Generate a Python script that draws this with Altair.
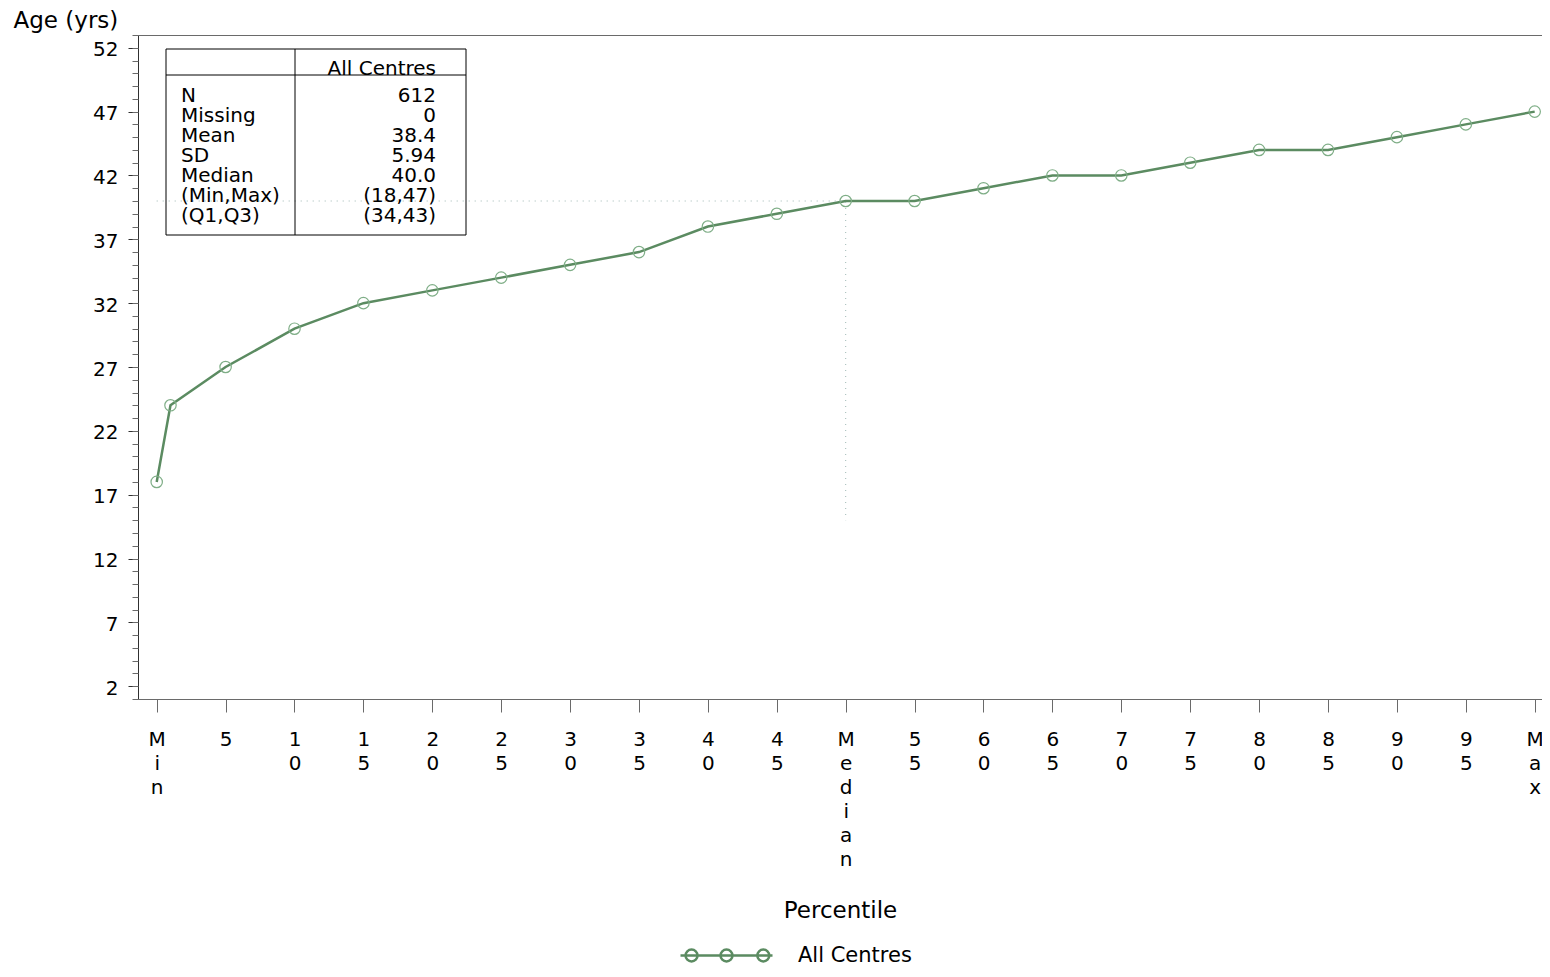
import altair as alt
import pandas as pd

# ---- data ----
percentiles = [0, 1, 5, 10, 15, 20, 25, 30, 35, 40, 45, 50, 55, 60, 65, 70, 75, 80, 85, 90, 95, 100]
ages = [18, 24, 27, 30, 32, 33, 34, 35, 36, 38, 39, 40, 40, 41, 42, 42, 43, 44, 44, 45, 46, 47]
series_name = "All Centres"

x_tick_values = [0, 5, 10, 15, 20, 25, 30, 35, 40, 45, 50, 55, 60, 65, 70, 75, 80, 85, 90, 95, 100]
x_tick_labels = ["Min", "5", "10", "15", "20", "25", "30", "35", "40", "45", "Median",
                 "55", "60", "65", "70", "75", "80", "85", "90", "95", "Max"]
y_major_ticks = [2, 7, 12, 17, 22, 27, 32, 37, 42, 47, 52]
y_minor_ticks = list(range(1, 54))

stat_labels = ["N", "Missing", "Mean", "SD", "Median", "(Min,Max)", "(Q1,Q3)"]
stat_values = ["612", "0", "38.4", "5.94", "40.0", "(18,47)", "(34,43)"]

ref_x = [0, 50, 50]
ref_y = [40, 40, 15]

# ---- styling ----
FONT = "DejaVu Sans"
LINE = "#5b8b61"
PT = "#7fae87"
REF = "#9fb8b4"
AXIS_DARK = "#303030"
AXIS_GREY = "#6a6a6a"

df = pd.DataFrame({"pct": percentiles, "age": ages, "series": series_name})
ref_df = pd.DataFrame({"pct": ref_x, "age": ref_y, "ord": list(range(len(ref_x)))})

xscale = alt.Scale(domain=[-1.357, 100.53], nice=False, zero=False)
yscale = alt.Scale(domain=[1, 53], nice=False, zero=False)

expr = "''"
for v, l in reversed(list(zip(x_tick_values, x_tick_labels))):
    expr = f"datum.value == {v} ? '{l}' : ({expr})"
label_expr = f"split({expr}, '')"

legend_path = ("M-1,0L1,0"
               "M-0.63,0A0.13,0.13,0,1,1,-0.89,0A0.13,0.13,0,1,1,-0.63,0"
               "M0.13,0A0.13,0.13,0,1,1,-0.13,0A0.13,0.13,0,1,1,0.13,0"
               "M0.93,0A0.13,0.13,0,1,1,0.67,0A0.13,0.13,0,1,1,0.93,0")

line = alt.Chart(df).mark_line(strokeWidth=2.5).encode(
    x=alt.X("pct:Q", scale=xscale, axis=alt.Axis(
        values=x_tick_values, labelExpr=label_expr, title="Percentile",
        orient="bottom", grid=False, tickSize=13, tickColor=AXIS_GREY, tickWidth=1,
        domainColor=AXIS_GREY, domainWidth=1,
        labelFont=FONT, labelFontSize=20, labelColor="black", labelLineHeight=24,
        labelPadding=17, labelAngle=0, labelAlign="center", labelBaseline="top",
        labelOverlap=False, labelFlush=False,
        titleFont=FONT, titleFontSize=23, titleFontWeight="normal", titleColor="black",
        titleY=218, titleBaseline="alphabetic")),
    y=alt.Y("age:Q", scale=yscale, axis=alt.Axis(
        values=y_major_ticks, title="Age (yrs)", orient="left", grid=False,
        tickSize=10, tickColor=AXIS_DARK, tickWidth=1,
        domainColor=AXIS_DARK, domainWidth=1,
        labelFont=FONT, labelFontSize=20, labelColor="black", labelPadding=10,
        labelOffset=2, labelOverlap=False, labelFlush=False,
        titleFont=FONT, titleFontSize=23, titleFontWeight="normal", titleColor="black",
        titleAngle=0, titleAlign="left", titleBaseline="alphabetic",
        titleX=-125, titleY=-8)),
    color=alt.Color("series:N", scale=alt.Scale(range=[LINE]), legend=alt.Legend(
        orient="none", legendX=541, legendY=873, title=None,
        symbolType=legend_path, symbolSize=8464, symbolStrokeWidth=2.5,
        symbolStrokeColor=LINE, symbolFillColor="transparent",
        labelFont=FONT, labelFontSize=21, labelColor="black", labelOffset=24,
        padding=0)),
    order="pct:Q",
)

points = alt.Chart(df).mark_point(shape="circle", size=130, filled=False,
                                  color=PT, strokeWidth=1.2, opacity=1).encode(
    x=alt.X("pct:Q", scale=xscale, axis=None),
    y=alt.Y("age:Q", scale=yscale, axis=None),
)

ref = alt.Chart(ref_df).mark_line(color=REF, strokeWidth=1, strokeDash=[1, 5]).encode(
    x=alt.X("pct:Q", scale=xscale, axis=alt.Axis(
        orient="top", labels=False, ticks=False, grid=False, title=None,
        domainColor=AXIS_GREY, domainWidth=1)),
    y=alt.Y("age:Q", scale=yscale, axis=alt.Axis(
        values=y_minor_ticks, orient="left", labels=False, domain=False, grid=False,
        title=None, tickSize=6, tickColor=AXIS_GREY, tickWidth=1)),
    order="ord:Q",
)

one = alt.Data(values=[{}])
box = alt.Chart(one).mark_rect(fill="transparent", stroke="black", strokeWidth=1).encode(
    x=alt.value(28), x2=alt.value(328), y=alt.value(14), y2=alt.value(200))
vdiv = alt.Chart(one).mark_rule(color="black", strokeWidth=1).encode(
    x=alt.value(157), y=alt.value(14), y2=alt.value(200))
hdiv = alt.Chart(one).mark_rule(color="black", strokeWidth=1).encode(
    x=alt.value(28), x2=alt.value(328), y=alt.value(40))
head = alt.Chart(one).mark_text(text=series_name, font=FONT, fontSize=20, align="right",
                                baseline="alphabetic", color="black").encode(
    x=alt.value(298), y=alt.value(40))
lab_txt = alt.Chart(one).mark_text(text=stat_labels, font=FONT, fontSize=20, align="left",
                                   baseline="alphabetic", lineHeight=20, color="black").encode(
    x=alt.value(43), y=alt.value(66.5))
val_txt = alt.Chart(one).mark_text(text=stat_values, font=FONT, fontSize=20, align="right",
                                   baseline="alphabetic", lineHeight=20, color="black").encode(
    x=alt.value(298), y=alt.value(66.5))

chart = alt.layer(line, points, ref, box, vdiv, hdiv, head, lab_txt, val_txt).resolve_axis(
    x="independent", y="independent"
).properties(
    width=1404, height=664,
    autosize=alt.AutoSizeParams(type="none"),
    padding={"left": 130, "top": 27, "right": 0, "bottom": 266},
).configure_view(stroke=None).configure(background="white")

chart.save("out.html", embed_options={"renderer": "svg", "actions": False})
